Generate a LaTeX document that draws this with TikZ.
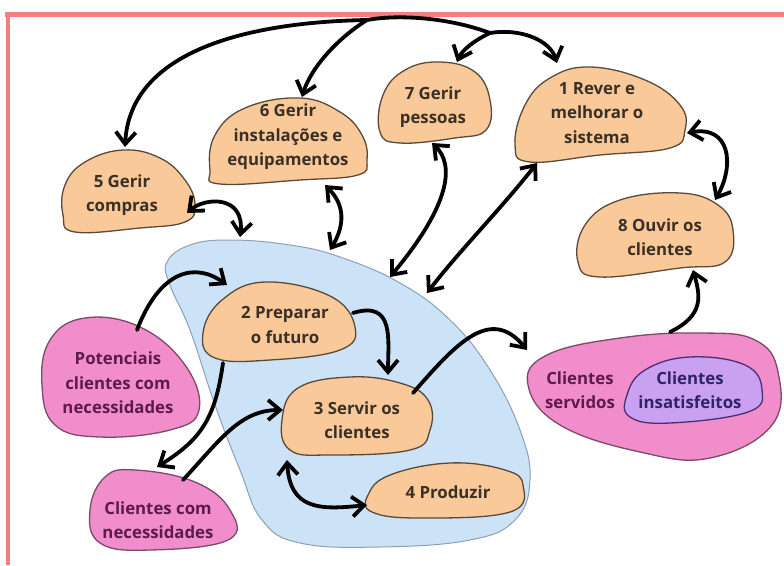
\documentclass[tikz,border=0pt]{standalone}
\usepackage{fontspec}
\setmainfont{Open Sans}
\usetikzlibrary{arrows.meta}
\definecolor{peach}{HTML}{F9C99A}
\definecolor{peachline}{HTML}{5A4A3A}
\definecolor{rose}{HTML}{F28DCB}
\definecolor{roseline}{HTML}{7A4A6A}
\definecolor{rosetext}{HTML}{5C1A4E}
\definecolor{lilac}{HTML}{C9A0F2}
\definecolor{lilacline}{HTML}{4A3070}
\definecolor{lilactext}{HTML}{2E2466}
\definecolor{sky}{HTML}{CCE3F7}
\definecolor{skyline}{HTML}{8AA0B8}
\definecolor{frame}{HTML}{F47F7F}
\definecolor{ink}{HTML}{3A3026}
\tikzset{%
  onearrow/.style = {-{Straight Barb[length=12pt,width=20pt]},
        line width=3.8pt,line cap=round},
  twoarrow/.style = {{Straight Barb[length=12pt,width=20pt]}-{Straight Barb[length=12pt,width=20pt]},
        line width=3.8pt,line cap=round},
  o/.style = {fill=peach,draw=peachline,line width=1.3pt},
  p/.style = {fill=rose,draw=roseline,line width=1.3pt},
  v/.style = {fill=lilac,draw=lilacline,line width=1.3pt},
  t/.style = {align=center,font=\fontsize{16.8}{24.5}\selectfont\bfseries,
        text=ink}
}

\begin{document}
\begin{tikzpicture}[x=1pt,y=-1pt]
\useasboundingbox (0,0) rectangle (784,565);
\fill[white] (0,0) rectangle (784,565);
\draw[frame,line width=5pt] (5,14) -- (784,14);
\draw[frame,line width=4pt] (8,14) -- (8,565);

% big blue area
\draw[fill=sky,draw=skyline,line width=1pt] plot[smooth cycle,tension=0.7] coordinates {
    (167,262) (190,245) (230,240) (290,245) (340,257) (400,283) (450,320)
    (490,370) (520,430) (530,480) (515,520) (470,540) (380,547) (300,543)
    (262,520) (240,470) (215,405) (190,330) (170,285)};

% blobs
\draw[o] plot[smooth cycle,tension=0.7] coordinates {
    (123,150) (160,158) (185,180) (195,205) (185,222) (140,228) (75,232) (63,215) (65,185) (85,162)};
\draw[o] plot[smooth cycle,tension=0.7] coordinates {
    (300,98) (340,112) (362,135) (367,160) (358,175) (300,180) (220,184) (210,170) (215,135) (245,108)};
\draw[o] plot[smooth cycle,tension=0.7] coordinates {
    (440,62) (475,72) (490,100) (486,130) (455,138) (400,143) (380,132) (383,95) (405,70)};
\draw[o] plot[smooth cycle,tension=0.7] coordinates {
    (590,67) (645,80) (680,105) (685,130) (670,148) (600,155) (530,162) (515,145) (525,105) (550,78)};
\draw[o] plot[smooth cycle,tension=0.7] coordinates {
    (680,193) (718,205) (733,230) (725,262) (680,268) (600,277) (578,262) (585,225) (620,200)};
\draw[o] plot[smooth cycle,tension=0.7] coordinates {
    (265,282) (330,296) (355,327) (340,350) (270,360) (215,358) (203,333) (222,300)};
\draw[o] plot[smooth cycle,tension=0.7] coordinates {
    (350,377) (400,383) (428,400) (430,430) (410,450) (330,455) (290,450) (282,420) (298,388)};
\draw[o] plot[smooth cycle,tension=0.7] coordinates {
    (450,463) (505,470) (523,485) (510,512) (420,518) (372,512) (368,495) (390,475)};
\draw[p] plot[smooth cycle,tension=0.7] coordinates {
    (85,318) (140,327) (185,365) (199,410) (170,430) (100,437) (55,425) (42,385) (50,340)};
\draw[p] plot[smooth cycle,tension=0.7] coordinates {
    (135,470) (195,482) (230,510) (228,540) (150,550) (100,543) (90,510) (105,477)};
\draw[p] plot[smooth cycle,tension=0.7] coordinates {
    (547,355) (620,338) (700,333) (755,340) (778,372) (772,425) (710,458) (640,452) (560,425) (528,385)};
\draw[v] plot[smooth cycle,tension=0.7] coordinates {
    (690,357) (745,365) (762,390) (748,412) (670,423) (630,417) (627,395) (645,370)};

% texts
\node[t] (s5) at (122,195) {5 Gerir\\compras};
\node[t] (s6) at (288,137) {6 Gerir\\instalações e\\equipamentos};
\node[t] (s7) at (433,107) {7 Gerir\\pessoas};
\node[t] (s1) at (597,113) {1 Rever e\\melhorar o\\sistema};
\node[t] (s8) at (660,237) {8 Ouvir os\\clientes};
\node[t] (s2) at (285,325) {2 Preparar\\o futuro};
\node[t] (s3) at (357,420) {3 Servir os\\clientes};
\node[t] (s4) at (448,492) {4 Produzir};
\node[t,text=rosetext] (cpot) at (118,383) {Potenciais\\clientes com\\necessidades};
\node[t,text=rosetext] (cnec) at (158,520) {Clientes com\\necessidades};
\node[t,text=rosetext] (cserv) at (580,390) {Clientes\\servidos};
\node[t,text=lilactext] (cinsat) at (690,390) {Clientes\\insatisfeitos};

% ends of the connectors
\coordinate (j1) at (367,20);
\coordinate (j2) at (490,33);
\coordinate (s5top) at (125,147);
\coordinate (s6top) at (302,97);
\coordinate (s7top) at (457,62);
\coordinate (s1top) at (557,63);
\coordinate (s5r) at (187,213);
\coordinate (b5) at (240,237);
\coordinate (s6bot) at (325,185);
\coordinate (b6) at (330,250);
\coordinate (s7bot) at (432,143);
\coordinate (b7) at (390,277);
\coordinate (s1bot) at (537,163);
\coordinate (b1) at (427,293);
\coordinate (s1r) at (687,133);
\coordinate (s8top) at (715,200);
\coordinate (s8bot) at (693,270);
\coordinate (cservtop) at (670,332);
\coordinate (s3r) at (413,393);
\coordinate (cservl) at (527,350);
\coordinate (cpottop) at (137,330);
\coordinate (s2l) at (227,285);
\coordinate (s2r) at (353,313);
\coordinate (s3top) at (388,375);
\coordinate (s2bot) at (223,363);
\coordinate (cnectop) at (157,467);
\coordinate (cnecr) at (183,480);
\coordinate (s3l) at (283,410);
\coordinate (s3bot) at (287,460);
\coordinate (s4l) at (367,505);

% connectors
\draw[onearrow] (j1) .. controls (250,22) and (130,50) .. (s5top);
\draw[line width=3.8pt,line cap=round] (j1) .. controls (400,14) and (450,18) .. (j2);
\draw[onearrow] (j1) .. controls (335,40) and (310,70) .. (s6top);
\draw[onearrow] (j2) .. controls (475,40) and (462,50) .. (s7top);
\draw[onearrow] (j2) .. controls (520,28) and (550,40) .. (s1top);
\draw[twoarrow] (s5r) .. controls (205,197) and (245,195) .. (b5);
\draw[twoarrow] (s6bot) .. controls (345,205) and (345,225) .. (b6);
\draw[twoarrow] (s7bot) .. controls (455,165) and (450,205) .. (b7);
\draw[twoarrow] (s1bot) .. controls (500,210) and (460,250) .. (b1);
\draw[twoarrow] (s1r) .. controls (730,125) and (735,165) .. (s8top);
\draw[onearrow] (cservtop) .. controls (705,315) and (700,295) .. (s8bot);
\draw[onearrow] (s3r) .. controls (455,345) and (490,305) .. (cservl);
\draw[onearrow] (cpottop) .. controls (160,270) and (195,262) .. (s2l);
\draw[onearrow] (s2r) .. controls (395,300) and (388,340) .. (s3top);
\draw[onearrow] (s2bot) .. controls (215,420) and (200,440) .. (cnectop);
\draw[onearrow] (cnecr) .. controls (220,440) and (240,410) .. (s3l);
\draw[twoarrow] (s3bot) .. controls (290,510) and (320,510) .. (s4l);
\end{tikzpicture}
\end{document}
